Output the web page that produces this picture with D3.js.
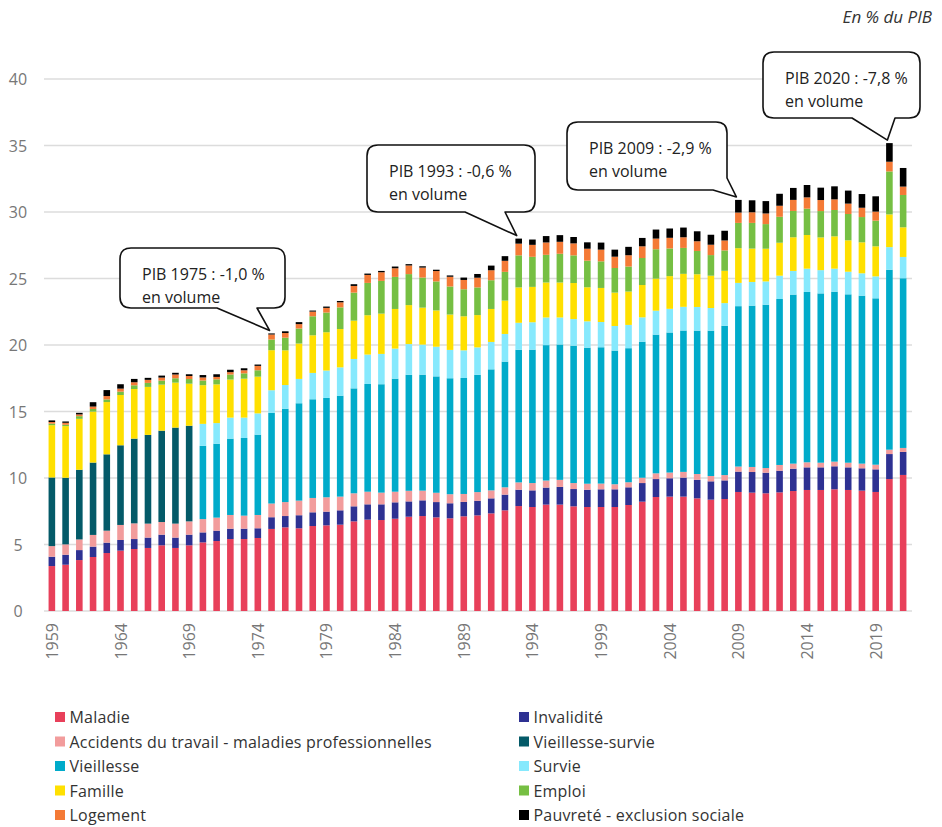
<!DOCTYPE html>
<html><head><meta charset="utf-8">
<script src="https://cdn.jsdelivr.net/npm/d3@7/dist/d3.min.js"></script>
<style>
html,body{margin:0;padding:0;background:#fff;}
svg{display:block;font-family:"Open Sans","Noto Sans",sans-serif;}
</style></head>
<body>
<svg id="chart" width="942" height="827"></svg>
<script>
const years = [1959,1960,1961,1962,1963,1964,1965,1966,1967,1968,1969,1970,1971,1972,1973,1974,1975,1976,1977,1978,1979,1980,1981,1982,1983,1984,1985,1986,1987,1988,1989,1990,1991,1992,1993,1994,1995,1996,1997,1998,1999,2000,2001,2002,2003,2004,2005,2006,2007,2008,2009,2010,2011,2012,2013,2014,2015,2016,2017,2018,2019,2020,2021];
const tickYears = [1959,1964,1969,1974,1979,1984,1989,1994,1999,2004,2009,2014,2019];
const yTicks = [0,5,10,15,20,25,30,35,40];

const maladie = [3.38,3.48,3.83,4.06,4.36,4.54,4.66,4.74,4.94,4.74,4.94,5.16,5.26,5.41,5.41,5.49,6.17,6.29,6.22,6.39,6.44,6.49,6.74,6.87,6.84,6.94,7.09,7.14,7.04,6.97,7.12,7.19,7.34,7.57,7.89,7.82,8.00,8.00,7.87,7.82,7.82,7.82,7.97,8.22,8.57,8.60,8.60,8.47,8.37,8.42,8.95,8.90,8.85,8.92,9.02,9.10,9.10,9.15,9.10,9.05,8.95,9.92,10.23];
const invalidite = [0.70,0.75,0.75,0.78,0.78,0.80,0.75,0.78,0.80,0.78,0.80,0.75,0.78,0.78,0.78,0.73,0.88,0.85,0.98,1.03,1.03,1.08,1.13,1.15,1.18,1.23,1.15,1.18,1.15,1.13,1.08,1.10,1.13,1.18,1.23,1.25,1.28,1.33,1.30,1.30,1.33,1.33,1.33,1.40,1.35,1.38,1.43,1.40,1.38,1.40,1.53,1.55,1.55,1.63,1.68,1.70,1.70,1.73,1.70,1.68,1.70,1.88,1.73];
const accidents = [0.80,0.78,0.80,0.88,0.90,1.13,1.18,1.05,0.95,1.05,1.00,1.00,0.98,1.03,0.98,1.00,1.03,1.05,1.10,1.08,1.08,1.03,0.98,0.95,0.88,0.80,0.80,0.73,0.70,0.68,0.60,0.65,0.60,0.55,0.55,0.55,0.53,0.53,0.45,0.45,0.43,0.38,0.38,0.40,0.43,0.43,0.43,0.43,0.40,0.40,0.38,0.38,0.35,0.43,0.38,0.38,0.35,0.35,0.35,0.35,0.35,0.33,0.30];
const vieillesseSurvie = [5.16,5.01,5.24,5.44,5.74,5.99,6.37,6.67,6.87,7.22,7.19,0,0,0,0,0,0,0,0,0,0,0,0,0,0,0,0,0,0,0,0,0,0,0,0,0,0,0,0,0,0,0,0,0,0,0,0,0,0,0,0,0,0,0,0,0,0,0,0,0,0,0,0];
const vieillesse = [0,0,0,0,0,0,0,0,0,0,0,5.51,5.56,5.74,5.84,6.04,6.82,7.02,7.32,7.42,7.47,7.59,7.89,8.10,8.15,8.50,8.72,8.72,8.75,8.72,8.72,8.82,9.10,9.45,9.97,10.03,10.18,10.18,10.33,10.23,10.25,10.05,10.08,10.23,10.43,10.53,10.63,10.78,10.93,11.23,12.06,12.13,12.28,12.48,12.71,12.81,12.73,12.78,12.66,12.63,12.51,13.53,12.76];
const survie = [0,0,0,0,0,0,0,0,0,0,0,1.65,1.55,1.58,1.53,1.60,1.70,1.78,1.83,1.98,2.06,2.13,2.21,2.21,2.28,2.26,2.31,2.26,2.23,2.13,2.08,2.06,2.06,2.08,2.03,2.06,2.08,2.03,2.00,1.98,1.90,1.85,1.75,1.83,1.80,1.78,1.78,1.78,1.70,1.70,1.75,1.78,1.75,1.75,1.78,1.75,1.75,1.73,1.70,1.68,1.65,1.70,1.60];
const famille = [3.93,3.88,3.83,3.83,3.93,3.78,3.73,3.61,3.46,3.38,3.16,2.91,2.91,2.86,2.93,2.76,3.01,2.61,2.66,2.83,2.88,2.88,2.88,2.96,3.03,2.98,2.93,2.78,2.73,2.66,2.56,2.43,2.48,2.51,2.66,2.66,2.63,2.63,2.71,2.56,2.56,2.51,2.51,2.43,2.41,2.46,2.48,2.46,2.43,2.43,2.61,2.51,2.46,2.48,2.53,2.53,2.46,2.43,2.36,2.33,2.26,2.46,2.23];
const emploi = [0.12,0.10,0.20,0.20,0.20,0.25,0.28,0.30,0.30,0.33,0.35,0.35,0.38,0.38,0.40,0.48,0.80,0.95,1.13,1.43,1.48,1.63,2.11,2.43,2.46,2.41,2.33,2.26,2.18,2.11,2.03,2.08,2.16,2.16,2.41,2.26,2.08,2.16,2.08,2.00,2.00,1.85,1.88,2.03,2.21,2.08,1.95,1.75,1.55,1.53,1.90,1.93,1.85,1.95,1.98,1.98,1.98,1.98,1.98,1.90,1.93,3.23,2.43];
const logement = [0.12,0.15,0.13,0.18,0.25,0.23,0.23,0.23,0.23,0.28,0.23,0.23,0.18,0.18,0.23,0.33,0.38,0.35,0.33,0.35,0.35,0.38,0.50,0.60,0.65,0.65,0.65,0.75,0.78,0.73,0.70,0.73,0.75,0.83,0.88,0.90,0.93,0.90,0.90,0.90,0.88,0.85,0.85,0.88,0.80,0.80,0.80,0.73,0.78,0.75,0.78,0.80,0.80,0.83,0.83,0.85,0.83,0.80,0.78,0.70,0.68,0.73,0.63];
const pauvrete = [0.12,0.10,0.12,0.33,0.45,0.33,0.25,0.15,0.15,0.13,0.13,0.18,0.20,0.18,0.15,0.10,0.08,0.13,0.15,0.08,0.10,0.10,0.13,0.10,0.10,0.13,0.10,0.10,0.10,0.10,0.18,0.28,0.35,0.35,0.38,0.40,0.48,0.50,0.48,0.48,0.53,0.53,0.63,0.63,0.68,0.70,0.73,0.75,0.75,0.73,0.95,0.90,0.93,0.90,0.90,0.93,0.93,0.98,0.98,1.03,1.15,1.40,1.40];

const seriesNames = ["Maladie","Invalidité","Accidents du travail - maladies professionnelles","Vieillesse-survie","Vieillesse","Survie","Famille","Emploi","Logement","Pauvreté - exclusion sociale"];
const seriesValues = [maladie,invalidite,accidents,vieillesseSurvie,vieillesse,survie,famille,emploi,logement,pauvrete];
const colors = ["#E8405A","#2E3192","#F29C9C","#045A68","#00ABCA","#86E9FD","#FFE000","#76BF43","#F47A36","#000000"];

const annotations = [
  {year:1975, lines:["PIB 1975 : -1,0 %","en volume"], box:[120,248,285,308], tail:"bottom", base:[217,257]},
  {year:1993, lines:["PIB 1993 : -0,6 %","en volume"], box:[367,145,535,212], tail:"bottom", base:[465,505]},
  {year:2009, lines:["PIB 2009 : -2,9 %","en volume"], box:[567,122,727,190], tail:"corner", base:[713,178]},
  {year:2020, lines:["PIB 2020 : -7,8 %","en volume"], box:[763,52,920,118], tail:"bottom", base:[852,895]}
];

const svg = d3.select("#chart");
const x = d3.scaleBand().domain(years).range([45,910]).paddingInner(0.52).paddingOuter(0.26);
const y = d3.scaleLinear().domain([0,40]).range([611,79]);

const table = years.map((yr,i)=>{
  const o = {year:yr};
  seriesNames.forEach((n,k)=>{ o[n] = seriesValues[k][i]; });
  return o;
});
const stack = d3.stack().keys(seriesNames)(table);

// grid
svg.append("g").selectAll("line").data(yTicks).join("line")
  .attr("x1",44).attr("x2",912)
  .attr("y1",d=>y(d)).attr("y2",d=>y(d))
  .attr("stroke","#dcdcdc").attr("stroke-width",1.5);

// y labels
svg.append("g").selectAll("text").data(yTicks).join("text")
  .attr("x",18).attr("y",d=>y(d)+6)
  .attr("text-anchor","middle")
  .attr("font-size",16).attr("fill","#777")
  .text(d=>d);

// bars
svg.append("g").selectAll("g").data(stack).join("g")
  .attr("fill",(d,i)=>colors[i])
  .selectAll("rect").data(d=>d).join("rect")
  .attr("x",d=>x(d.data.year))
  .attr("width",x.bandwidth())
  .attr("y",d=>y(d[1]))
  .attr("height",d=>Math.max(0,y(d[0])-y(d[1])));

// x labels
svg.append("g").selectAll("text").data(tickYears).join("text")
  .attr("transform",d=>`translate(${x(d)+x.bandwidth()/2+6},623) rotate(-90)`)
  .attr("text-anchor","end")
  .attr("font-size",16).attr("fill","#777")
  .text(d=>d);

// unit
svg.append("text").attr("x",932).attr("y",23).attr("text-anchor","end")
  .attr("font-size",17).attr("font-style","italic").attr("fill","#333")
  .text("En % du PIB");

// annotations
const totals = years.map((yr,i)=>d3.sum(seriesValues,s=>s[i]));
annotations.forEach(a=>{
  const i = years.indexOf(a.year);
  const tx = x(a.year)+x.bandwidth()/2 - 2, ty = y(totals[i]) - 3;
  const [x0,y0,x1,y1] = a.box, r = 11;
  let p;
  if (a.tail === "bottom") {
    const [b0,b1] = a.base;
    p = `M${x0+r},${y0} H${x1-r} Q${x1},${y0} ${x1},${y0+r} V${y1-r} Q${x1},${y1} ${x1-r},${y1} H${b1} L${tx},${ty} L${b0},${y1} H${x0+r} Q${x0},${y1} ${x0},${y1-r} V${y0+r} Q${x0},${y0} ${x0+r},${y0} Z`;
  } else {
    const [bx,by] = a.base;
    p = `M${x0+r},${y0} H${x1-r} Q${x1},${y0} ${x1},${y0+r} V${by} L${tx},${ty} L${bx},${y1} H${x0+r} Q${x0},${y1} ${x0},${y1-r} V${y0+r} Q${x0},${y0} ${x0+r},${y0} Z`;
  }
  svg.append("path").attr("d",p).attr("fill","#fff").attr("stroke","#111").attr("stroke-width",1.6).attr("stroke-linejoin","round");
  a.lines.forEach((t,k)=>{
    svg.append("text").attr("x",x0+22).attr("y",y0+32+k*23)
      .attr("font-size",16).attr("fill","#222").text(t);
  });
});

// legend
const legend = svg.append("g");
seriesNames.forEach((n,i)=>{
  const col = i%2, row = Math.floor(i/2);
  const lx = col===0 ? 55 : 519;
  const ly = 717 + row*24.5;
  legend.append("rect").attr("x",lx).attr("y",ly-5).attr("width",10).attr("height",10).attr("fill",colors[i]);
  legend.append("text").attr("x",lx+14.5).attr("y",ly+6).attr("font-size",16).attr("letter-spacing",0.2).attr("fill","#333").text(n);
});
</script>
</body></html>
